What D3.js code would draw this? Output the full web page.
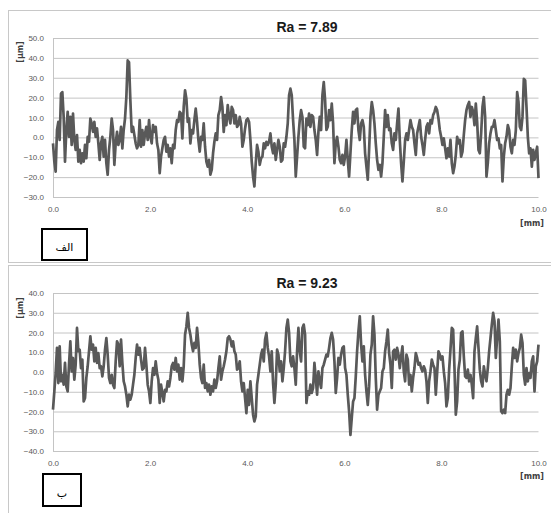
<!DOCTYPE html>
<html>
<head>
<meta charset="utf-8">
<script src="https://cdn.jsdelivr.net/npm/d3@7"></script>
<style>
body { margin: 0; background: #fff; }
svg { display: block; font-family: "DejaVu Sans", sans-serif; }
.grid line { stroke: #c4c4c4; }
.grid .domain, .xaxis .domain { display: none; }
.tick text { fill: #595959; font-size: 8px; }
</style>
</head>
<body>
<div id="chart"></div>
<script>
// 粗糙度曲線 (µm), 0–10 mm 等間距取樣
const profileA = [
  -3.0,-12.2,-17.2,3.7,7.8,-1.3,22.0,22.8,10.3,-12.2,
  3.7,12.8,0.3,10.3,-3.8,12.0,-1.3,-6.3,1.2,-12.2,
  -6.3,-13.0,-8.0,-12.2,-3.8,-10.5,0.3,-2.2,9.5,7.0,
  2.8,7.8,0.3,4.5,-3.0,-11.3,-3.0,0.3,-9.7,-1.3,
  -13.0,-18.8,-6.3,0.3,9.5,3.7,-13.8,-3.0,2.8,-3.8,
  -1.3,5.3,-5.5,3.7,9.5,20.3,38.7,37.8,18.7,2.8,
  5.3,1.2,-3.0,-5.5,-3.8,8.7,-4.7,3.7,-3.8,2.0,
  5.3,-1.3,8.7,0.3,-3.0,6.2,2.8,5.3,-3.0,-6.3,
  -18.0,-9.7,-5.5,-1.3,0.3,-7.2,-3.8,-9.7,-5.5,-13.0,
  -3.8,-5.5,3.7,8.7,7.8,12.8,12.0,-0.5,15.3,23.7,
  19.5,7.8,9.5,-3.0,3.7,2.0,8.7,14.5,7.8,-1.3,
  -7.2,0.3,-1.3,7.0,-4.7,-12.2,-14.7,-11.3,-18.8,-16.3,
  -8.0,-2.2,2.0,-1.3,11.2,13.7,20.3,15.3,2.8,11.2,
  6.2,16.2,10.3,7.0,15.3,13.7,7.0,11.2,5.3,6.2,
  10.3,7.0,-4.7,-1.3,4.5,8.7,9.5,7.8,-1.3,-12.2,
  -19.7,-24.7,-13.0,-3.8,-7.2,-13.8,-10.5,-9.7,-3.0,-5.5,
  -2.2,-3.8,-2.2,2.0,-4.7,-8.0,-3.0,-11.3,-6.3,-1.3,
  -4.7,-12.2,-11.3,-3.0,-4.7,0.3,7.0,21.2,24.5,21.2,
  8.7,-1.3,-19.7,
  -9.7,0.3,8.7,13.7,10.3,-4.7,-5.5,9.5,6.2,12.0,
  5.3,11.2,10.3,3.7,-1.3,-8.8,2.8,10.3,3.7,21.2,
  27.8,18.7,3.7,5.3,13.7,8.7,17.0,7.0,-13.0,-3.0,
  0.3,-4.7,-11.3,-13.0,-8.8,-13.8,-9.7,-1.3,-11.3,-19.7,
  -8.0,3.7,12.8,7.0,13.7,14.5,3.7,-1.3,7.0,8.7,
  5.3,-8.0,-14.7,-21.3,-6.3,10.3,17.8,13.7,7.0,-3.0,
  -11.3,-16.3,-13.8,-19.7,-13.0,0.3,13.7,5.3,11.2,3.7,
  4.5,-3.0,-6.3,2.0,-1.3,7.0,14.5,-1.3,-13.0,-22.2,
  -12.2,-1.3,2.0,-1.3,3.7,8.7,5.3,3.7,-3.0,-8.8,
  2.0,5.3,8.7,0.3,-3.8,-8.8,-1.3,5.3,7.0,2.0,
  8.7,7.0,11.2,12.8,15.3,13.7,9.5,3.7,0.3,-3.8,
  -0.5,-5.5,-10.5,-5.5,-9.7,-1.3,-13.0,-18.0,-14.7,-8.8,
  0.3,-3.0,-1.3,-9.7,-7.2,1.2,8.7,13.7,16.2,17.8,
  10.3,15.3,12.8,6.2,17.0,7.8,-6.3,-8.0,2.0,15.3,
  20.3,10.3,-19.7,-13.0,-3.0,2.0,5.3,5.3,8.7,3.7,
  -1.3,-0.5,-5.5,-3.8,-22.2,-9.7,-3.0,0.3,6.2,3.7,
  -4.7,-8.0,-1.3,-3.8,3.7,22.8,17.8,5.3,3.7,10.3,
  29.5,28.7,15.3,0.3,-8.0,-5.5,-14.7,-6.3,-11.3,-8.0,
  -4.7,-20.5
];

const profileB = [
  -19.1,-9.8,-0.5,12.2,-5.6,13.0,-4.7,-1.4,-6.4,4.6,
  -7.3,-9.8,3.7,15.5,0.3,7.1,-3.9,3.7,22.3,10.5,
  11.3,2.0,6.3,-14.9,-13.2,-3.0,2.9,10.5,18.1,11.3,
  13.9,5.4,12.2,4.6,9.6,2.0,2.9,-2.2,2.9,11.3,
  17.2,8.8,-3.0,-5.6,-1.4,-6.4,-8.1,5.4,15.5,13.9,
  2.9,16.4,4.6,-4.7,-7.3,-11.5,-17.4,-11.5,-14.0,-11.5,
  -6.4,-1.4,7.1,13.9,8.8,12.2,6.3,1.2,2.0,12.2,
  3.7,-6.4,-9.8,-15.7,-4.7,2.0,-1.4,5.4,-0.5,-3.9,
  -15.7,-6.4,-10.6,-14.9,-9.0,-9.8,-4.7,-7.3,-3.0,2.9,
  4.6,1.2,7.1,0.3,3.7,-3.9,2.0,-4.7,2.9,18.9,
  23.1,29.9,22.3,18.9,13.9,10.5,14.7,12.2,22.3,14.7,
  3.7,-3.0,-5.6,3.7,-8.1,-5.6,-9.8,-6.4,-11.5,-7.3,
  -9.8,-3.9,-8.1,-4.7,2.0,7.9,-3.9,0.3,2.9,6.3,
  10.5,17.2,18.1,16.4,13.0,15.5,10.5,8.8,1.2,2.0,
  5.4,-4.7,-9.8,-5.6,-13.2,-20.8,-9.0,-16.6,-4.7,-13.2,
  -21.6,-25.0,-22.5,-6.4,-1.4,3.7,8.8,11.3,5.4,16.4,
  19.8,12.2,7.9,0.3,10.5,-5.6,-15.7,-6.4,11.3,8.8,
  0.3,5.4,-4.7,2.0,10.5,22.3,26.5,19.8,5.4,2.9,
  7.9,2.0,-6.4,
  10.5,22.3,10.5,5.4,22.3,24.0,18.9,-15.7,-9.8,-11.5,
  -6.4,-10.6,-8.1,4.6,-3.0,-11.5,0.3,-4.7,-8.1,2.0,
  3.7,6.3,8.8,7.9,12.2,17.2,19.8,16.4,5.4,-10.6,
  -3.0,7.1,3.7,8.8,12.2,13.0,2.0,-1.4,-11.5,-19.9,
  -31.8,-23.3,-14.9,-13.2,-2.2,10.5,20.6,28.2,13.9,5.4,
  13.0,-1.4,-9.8,-16.6,-7.3,8.8,13.9,28.2,18.9,-3.0,
  -19.1,-11.5,-9.8,-8.1,0.3,2.0,10.5,15.5,21.5,9.6,
  3.7,-8.1,10.5,11.3,6.3,12.2,8.8,2.0,7.9,13.0,
  0.3,-4.7,8.8,6.3,-6.4,-1.4,-9.8,-3.0,2.0,9.6,
  7.1,3.7,4.6,2.0,0.3,2.9,1.2,-4.7,-15.7,-4.7,
  0.3,6.3,3.7,2.0,-11.5,-0.5,10.5,8.8,6.3,7.9,
  0.3,-5.6,-17.4,-13.2,1.2,11.3,22.3,21.5,2.0,-21.6,
  -14.9,1.2,6.3,19.8,20.6,7.9,-2.2,-3.0,1.2,-4.7,
  -1.4,-6.4,-13.2,10.5,17.2,23.1,12.2,1.2,-4.7,-7.3,
  2.9,-1.4,-4.7,2.0,10.5,17.2,24.0,29.9,25.7,7.1,
  17.2,26.5,15.5,-19.9,-20.8,-19.1,-20.8,-11.5,-9.0,-11.5,
  -8.1,2.9,12.2,7.1,11.3,5.4,9.6,12.2,18.9,14.7,
  -1.4,-6.4,2.0,-4.7,-0.5,-3.0,5.4,7.9,-9.8,2.9,
  5.4,13.9
];

const profileLength = 10; // mm
const xTicks = [0, 2, 4, 6, 8, 10];
const yTicksA = [-30, -20, -10, 0, 10, 20, 30, 40, 50];
const yTicksB = [-40, -30, -20, -10, 0, 10, 20, 30, 40];
const titles = ['Ra = 7.89', 'Ra = 9.23'];
const tags = ['الف', 'ب'];

const svg_width = 551, svg_height = 513;
const plot_left = 53, plot_right = 538.5;

const svg = d3.select('#chart').append('svg')
    .attr('width', svg_width).attr('height', svg_height);

const xScale = d3.scaleLinear().domain([0, profileLength]).range([plot_left, plot_right]);
const fmt = d3.format('.1f');

// 兩個面板的版面設定
const panels = [
  { data: profileA, yTicks: yTicksA, title: titles[0], tag: tags[0],
    frameY: 10.5, frameH: 252, top: 38, bottom: 197, titleY: 32,
    unitY: 226, umY: 52, box: [42, 229, 45, 31], tagY: 251 },
  { data: profileB, yTicks: yTicksB, title: titles[1], tag: tags[1],
    frameY: 265.5, frameH: 260, top: 293, bottom: 451, titleY: 288,
    unitY: 479, umY: 308, box: [43, 474, 38, 32], tagY: 497 }
];

panels.forEach(p => {
  const g = svg.append('g');

  // 外框
  g.append('rect')
    .attr('x', 8.5).attr('y', p.frameY)
    .attr('width', 600).attr('height', p.frameH)
    .attr('fill', 'none').attr('stroke', '#c8c8c8');

  const yScale = d3.scaleLinear()
      .domain(d3.extent(p.yTicks))
      .range([p.bottom, p.top]);

  // 格線 + y 刻度
  g.append('g')
    .attr('class', 'grid')
    .attr('transform', `translate(${plot_left},0)`)
    .call(d3.axisLeft(yScale)
      .tickValues(p.yTicks)
      .tickFormat(fmt)
      .tickSizeInner(-(plot_right - plot_left))
      .tickSizeOuter(0)
      .tickPadding(9));

  // 左軸線
  g.append('line')
    .attr('x1', plot_left + 0.5).attr('x2', plot_left + 0.5)
    .attr('y1', p.top).attr('y2', p.bottom)
    .attr('stroke', '#c4c4c4');

  // x 刻度
  g.append('g')
    .attr('class', 'xaxis')
    .attr('transform', `translate(0,${p.bottom})`)
    .call(d3.axisBottom(xScale)
      .tickValues(xTicks)
      .tickFormat(fmt)
      .tickSize(0)
      .tickPadding(9.5));

  // 曲線
  const n = p.data.length;
  const line = d3.line()
      .x((d, i) => xScale(i * profileLength / (n - 1)))
      .y(d => yScale(d));
  g.append('path')
    .datum(p.data)
    .attr('d', line)
    .attr('fill', 'none')
    .attr('stroke', '#595959')
    .attr('stroke-width', 2.7)
    .attr('stroke-linejoin', 'round');

  // 標題
  g.append('text')
    .attr('x', 307).attr('y', p.titleY)
    .attr('text-anchor', 'middle')
    .style('font-family', '"Liberation Sans", sans-serif')
    .style('font-weight', 'bold').style('font-size', '14px')
    .style('fill', '#1a1a1a')
    .text(p.title);

  // 單位
  g.append('text')
    .attr('x', 544).attr('y', p.unitY)
    .attr('text-anchor', 'end')
    .style('font-size', '8px').style('font-weight', 'bold').style('fill', '#404040')
    .text('[mm]');
  g.append('text')
    .attr('transform', `translate(23,${p.umY}) rotate(-90)`)
    .attr('text-anchor', 'middle')
    .style('font-size', '8px').style('font-weight', 'bold').style('fill', '#404040')
    .text('[µm]');

  // 標籤框
  g.append('rect')
    .attr('x', p.box[0]).attr('y', p.box[1])
    .attr('width', p.box[2]).attr('height', p.box[3])
    .attr('fill', '#fff').attr('stroke', '#000').attr('stroke-width', 2);
  g.append('text')
    .attr('x', p.box[0] + p.box[2] / 2).attr('y', p.tagY)
    .attr('text-anchor', 'middle')
    .style('font-size', '11px').style('fill', '#000')
    .text(p.tag);
});
</script>
</body>
</html>
